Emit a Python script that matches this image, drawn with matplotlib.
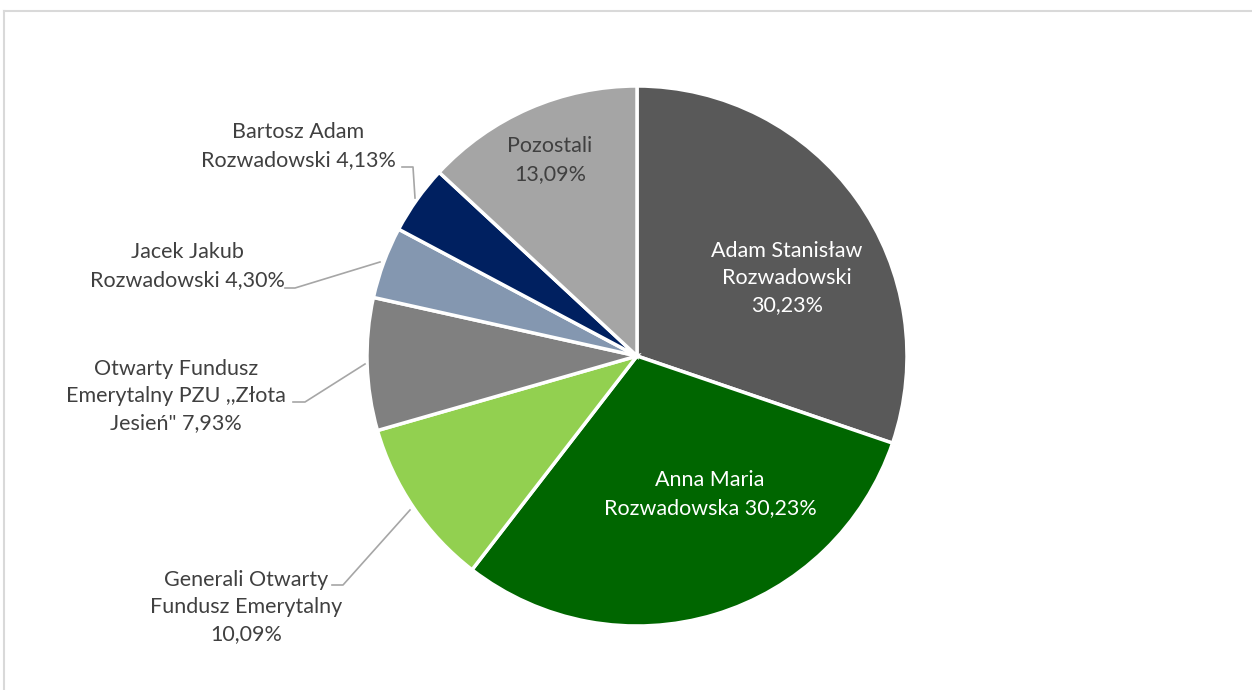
import matplotlib.pyplot as plt

# udziały w kapitale (%), od góry zgodnie z ruchem wskazówek zegara
names = ["Adam Stanisław\nRozwadowski", "Anna Maria\nRozwadowska", "Generali Otwarty\nFundusz Emerytalny",
         "Otwarty Fundusz\nEmerytalny PZU ,,Złota\nJesień\"", "Jacek Jakub\nRozwadowski",
         "Bartosz Adam\nRozwadowski", "Pozostali"]
shares = [30.23, 30.23, 10.09, 7.93, 4.30, 4.13, 13.09]
colors = ["#595959", "#006600", "#92D050", "#808080", "#8497B0", "#002060", "#A5A5A5"]

label_text = [
    "Adam Stanisław\nRozwadowski\n30,23%",
    "Anna Maria\nRozwadowska 30,23%",
    "Generali Otwarty\nFundusz Emerytalny\n10,09%",
    "Otwarty Fundusz\nEmerytalny PZU ,,Złota\nJesień\" 7,93%",
    "Jacek Jakub\nRozwadowski 4,30%",
    "Bartosz Adam\nRozwadowski 4,13%",
    "Pozostali\n13,09%",
]

W, H = 1252, 690
fig = plt.figure(figsize=(W / 100, H / 100), dpi=100)
ax = fig.add_axes([0, 0, 1, 1])

cx, cy, r = 637, H - 356, 270
ax.pie(shares, colors=colors, startangle=90, counterclock=False, center=(cx, cy), radius=r,
       wedgeprops=dict(edgecolor="white", linewidth=2.5), frame=True)
ax.set_xlim(0, W)
ax.set_ylim(0, H)
ax.set_aspect("equal")
ax.axis("off")

# ramka wykresu
ax.plot([4, W], [H - 11, H - 11], color="#D9D9D9", lw=1.5)
ax.plot([4, 4], [H - 11, 0], color="#D9D9D9", lw=1.5)

font = dict(family="Lato", fontsize=15.5, linespacing=1.45, ha="center", va="center")
pos = [(787, 278), (710, 494), (246, 607), (176, 396), (187, 266), (298, 146), (550, 160)]
txt_col = ["white", "white", "#404040", "#404040", "#404040", "#404040", "#404040"]
for t, (x, y), c in zip(label_text, pos, txt_col):
    ax.text(x, H - y, t, color=c, **font)

leaders = [
    [(402, 167), (413, 167), (415, 198)],
    [(285, 288), (295, 288), (380, 262)],
    [(293, 402), (305, 402), (365, 364)],
    [(332, 585), (343, 585), (410, 510)],
]
for pts in leaders:
    ax.plot([p[0] for p in pts], [H - p[1] for p in pts], color="#A6A6A6", lw=1.2)

fig.savefig("out.png", dpi=100)
